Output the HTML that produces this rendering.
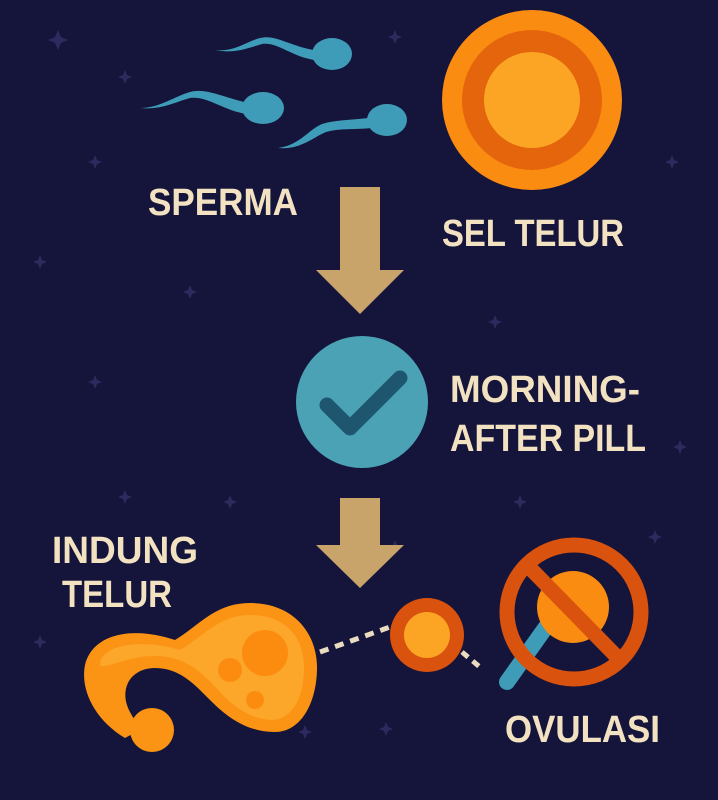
<!DOCTYPE html>
<html><head><meta charset="utf-8"><style>
html,body{margin:0;padding:0;background:#15143a;}
svg{display:block}
text{font-family:"Liberation Sans",sans-serif;font-weight:bold;fill:#f3e2c2;}
</style></head><body>
<svg width="718" height="800" viewBox="0 0 718 800" xmlns="http://www.w3.org/2000/svg">
<rect width="718" height="800" fill="#15143a"/>
<g fill="#2c2b5e">
<path d="M58 30l3 7 7 3-7 3-3 7-3-7-7-3 7-3z"/>
<path d="M395 30l2 5 5 2-5 2-2 5-2-5-5-2 5-2z"/>
<path d="M125 70l2 5 5 2-5 2-2 5-2-5-5-2 5-2z"/>
<path d="M95 155l2 5 5 2-5 2-2 5-2-5-5-2 5-2z"/>
<path d="M672 155l2 5 5 2-5 2-2 5-2-5-5-2 5-2z"/>
<path d="M190 285l2 5 5 2-5 2-2 5-2-5-5-2 5-2z"/>
<path d="M495 315l2 5 5 2-5 2-2 5-2-5-5-2 5-2z"/>
<path d="M40 255l2 5 5 2-5 2-2 5-2-5-5-2 5-2z"/>
<path d="M95 375l2 5 5 2-5 2-2 5-2-5-5-2 5-2z"/>
<path d="M680 440l2 5 5 2-5 2-2 5-2-5-5-2 5-2z"/>
<path d="M125 490l2 5 5 2-5 2-2 5-2-5-5-2 5-2z"/>
<path d="M230 495l2 5 5 2-5 2-2 5-2-5-5-2 5-2z"/>
<path d="M520 495l2 5 5 2-5 2-2 5-2-5-5-2 5-2z"/>
<path d="M40 635l2 5 5 2-5 2-2 5-2-5-5-2 5-2z"/>
<path d="M395 540l2 5 5 2-5 2-2 5-2-5-5-2 5-2z"/>
<path d="M655 530l2 5 5 2-5 2-2 5-2-5-5-2 5-2z"/>
<path d="M305 725l2 5 5 2-5 2-2 5-2-5-5-2 5-2z"/>
<path d="M386 722l2 5 5 2-5 2-2 5-2-5-5-2 5-2z"/>
</g>
<!-- sperm -->
<g fill="#3f9cb8">
<ellipse cx="332" cy="54" rx="20" ry="16"/>
<path d="M314 50 C290 46 275 34 260 38 C245 42 235 52 215 50 C235 54 248 48 262 44 C278 42 290 56 314 60z"/>
<ellipse cx="263" cy="108" rx="21" ry="16"/>
<path d="M244 102 C220 96 205 88 190 92 C175 96 160 108 140 108 C162 110 175 102 190 98 C208 96 222 110 246 114z"/>
<ellipse cx="387" cy="120" rx="20" ry="16"/>
<path d="M369 118 C350 120 335 120 322 124 C308 130 300 145 278 148 C300 150 312 138 326 132 C340 128 352 130 371 128z"/>
</g>
<!-- egg -->
<circle cx="532" cy="100" r="90" fill="#fb8c12"/>
<circle cx="532" cy="100" r="70" fill="#e4650b"/>
<circle cx="532" cy="100" r="48" fill="#fca524"/>
<text x="148" y="215" font-size="38" textLength="150" lengthAdjust="spacingAndGlyphs">SPERMA</text>
<text x="442" y="246" font-size="38" textLength="182" lengthAdjust="spacingAndGlyphs">SEL TELUR</text>
<!-- arrows -->
<g fill="#c9a46a">
<path d="M340 187h40v83h24l-44 44-44-44h24z"/>
<path d="M340 498h40v47h24l-44 43-44-43h24z"/>
</g>
<!-- check -->
<circle cx="362" cy="402" r="66" fill="#4aa2b4"/>
<path d="M327 405 L350 428 L400 378" fill="none" stroke="#1e5670" stroke-width="15" stroke-linecap="round" stroke-linejoin="round"/>
<text x="450" y="402" font-size="38" textLength="190" lengthAdjust="spacingAndGlyphs">MORNING-</text>
<text x="450" y="451" font-size="38" textLength="196" lengthAdjust="spacingAndGlyphs">AFTER PILL</text>
<text x="52" y="563" font-size="38" textLength="146" lengthAdjust="spacingAndGlyphs">INDUNG</text>
<text x="62" y="607" font-size="38" textLength="110" lengthAdjust="spacingAndGlyphs">TELUR</text>
<!-- ovary -->
<path d="M175 640 C200 625 215 603 250 603 C295 603 318 635 317 670 C316 705 300 732 275 732 C245 732 225 715 210 700 C195 685 180 668 155 668 C130 668 118 690 130 712 L140 730 L125 738 C95 720 80 690 85 665 C92 635 130 625 175 640 Z" fill="#fb9415"/>
<path d="M180 650 C205 635 220 615 250 615 C288 615 305 640 304 670 C303 700 292 718 273 720 C250 720 232 705 220 692 C205 676 188 656 155 656 C125 656 105 670 100 665 C100 645 140 638 180 650 Z" fill="#fca62a"/>
<circle cx="152" cy="730" r="22" fill="#fb9415"/>
<circle cx="265" cy="653" r="23" fill="#fb8c10"/>
<circle cx="230" cy="670" r="12" fill="#fb8c10"/>
<circle cx="255" cy="700" r="9" fill="#fb8c10"/>
<!-- dashed -->
<path d="M320 652 L390 627" stroke="#eadcc0" stroke-width="5" stroke-dasharray="9 7" fill="none"/>
<path d="M462 652 L481 668" stroke="#eadcc0" stroke-width="5" stroke-dasharray="8 6" fill="none"/>
<circle cx="427" cy="635" r="37" fill="#d9520e"/>
<circle cx="427" cy="635" r="23" fill="#fca524"/>
<!-- prohibited ovulation -->
<path d="M507 682 L546 627" stroke="#3f9cb8" stroke-width="16" stroke-linecap="round"/>
<circle cx="573" cy="607" r="36" fill="#fb8c12"/>
<circle cx="574" cy="612" r="67" fill="none" stroke="#d9520e" stroke-width="15"/>
<path d="M527 565 L620 660" stroke="#d9520e" stroke-width="15"/>
<text x="505" y="742" font-size="38" textLength="155" lengthAdjust="spacingAndGlyphs">OVULASI</text>
</svg>
</body></html>
